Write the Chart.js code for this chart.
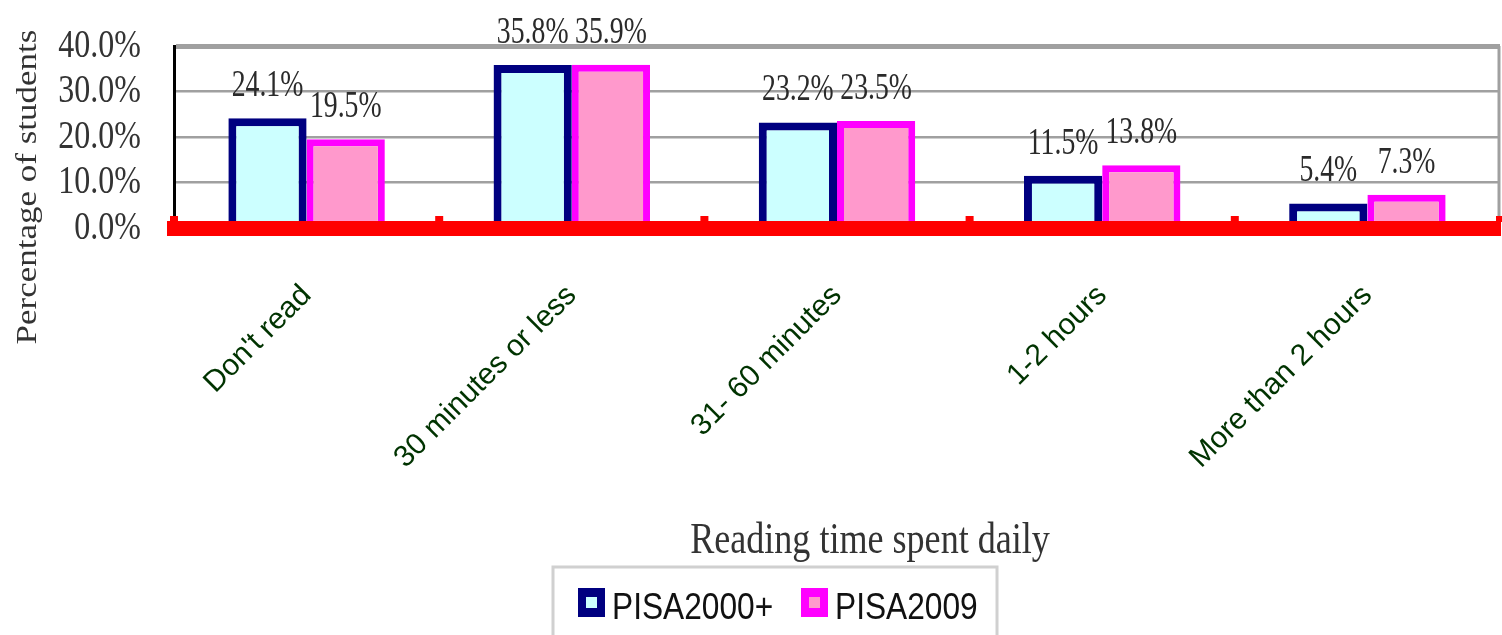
<!DOCTYPE html>
<html>
<head>
<meta charset="utf-8">
<title>Reading time spent daily</title>
<script src="https://cdn.jsdelivr.net/npm/chart.js@4.4.1/dist/chart.umd.min.js"></script>
<style>
  html, body { margin: 0; padding: 0; background: #fff; }
  #wrap { width: 1502px; height: 635px; position: relative; }
</style>
</head>
<body>
<div id="wrap"><canvas id="chart"></canvas></div>
<script>
const categories = ["Don't read", '30 minutes or less', '31- 60 minutes', '1-2 hours', 'More than 2 hours'];
const pisa2000 = [24.1, 35.8, 23.2, 11.5, 5.4];
const pisa2009 = [19.5, 35.9, 23.5, 13.8, 7.3];
const seriesNames = ['PISA2000+', 'PISA2009'];
const yTicks = [0, 10, 20, 30, 40];

// squeezed text, the source picture is narrowed horizontally
function squeezedText(ctx, text, x, y, sx, font, color, align, baseline) {
  ctx.save();
  ctx.font = font;
  ctx.fillStyle = color;
  ctx.textAlign = align;
  ctx.textBaseline = baseline;
  ctx.translate(x, y);
  ctx.scale(sx, 1);
  ctx.fillText(text, 0, 0);
  ctx.restore();
}

const decorations = {
  id: 'decorations',
  beforeDatasetsDraw(chart) {
    const { ctx, chartArea } = chart;
    ctx.save();
    ctx.strokeStyle = '#a0a0a0';
    ctx.lineWidth = 3;
    ctx.beginPath();
    ctx.moveTo(chartArea.right - 1, chartArea.top);
    ctx.lineTo(chartArea.right - 1, chartArea.bottom);
    ctx.stroke();
    ctx.restore();
  },
  afterDatasetsDraw(chart) {
    const { ctx } = chart;
    chart.data.datasets.forEach((ds, i) => {
      const meta = chart.getDatasetMeta(i);
      meta.data.forEach((bar, j) => {
        squeezedText(ctx, ds.data[j].toFixed(1) + '%', bar.x, bar.y - 22, 0.73,
          '38px "Liberation Serif"', '#2a2a2a', 'center', 'alphabetic');
      });
    });
  },
  afterDraw(chart) {
    const { ctx, scales, chartArea } = chart;
    const y = scales.y;
    const x = scales.x;

    // little red marks between categories
    ctx.save();
    ctx.fillStyle = '#ff0000';
    const half = (x.getPixelForValue(1) - x.getPixelForValue(0)) / 2;
    for (let i = 0; i <= categories.length; i++) {
      const px = x.getPixelForValue(i) - half;
      ctx.fillRect(px - 4, chartArea.bottom - 12, 8, 6);
    }
    ctx.restore();

    y.ticks.forEach(t => {
      squeezedText(ctx, t.value.toFixed(1) + '%', 141, y.getPixelForValue(t.value), 0.8,
        '40px "Liberation Serif"', '#333', 'right', 'middle');
    });

    // y title
    ctx.save();
    ctx.translate(28, 187);
    ctx.scale(0.82, 1);
    ctx.rotate(-Math.PI / 2);
    ctx.font = '35px "Liberation Serif"';
    ctx.fillStyle = '#333';
    ctx.textAlign = 'center';
    ctx.textBaseline = 'middle';
    ctx.fillText('Percentage of students', 0, 0);
    ctx.restore();

    // x title
    squeezedText(ctx, 'Reading time spent daily', 870, 553, 0.82,
      '44px "Liberation Serif"', '#333', 'center', 'alphabetic');

    // legend box
    ctx.save();
    ctx.strokeStyle = '#d0d0d0';
    ctx.lineWidth = 3;
    ctx.strokeRect(553, 567, 444, 90);
    const items = [
      { x: 578, ds: chart.data.datasets[0] },
      { x: 801, ds: chart.data.datasets[1] },
    ];
    items.forEach(it => {
      ctx.fillStyle = it.ds.borderColor;
      ctx.fillRect(it.x, 588, 27, 29);
      ctx.fillStyle = it.ds.backgroundColor;
      ctx.fillRect(it.x + 8, 597, 11, 11);
      squeezedText(ctx, it.ds.label, it.x + 34, 619, 0.88,
        '36px "Liberation Sans"', '#111', 'left', 'alphabetic');
    });
    ctx.restore();
  }
};

new Chart(document.getElementById('chart'), {
  type: 'bar',
  data: {
    labels: categories,
    datasets: [
      {
        label: seriesNames[0],
        data: pisa2000,
        backgroundColor: '#ccffff',
        borderColor: '#000080',
        borderWidth: 8,
        borderSkipped: 'start',
      },
      {
        label: seriesNames[1],
        data: pisa2009,
        backgroundColor: '#ff99cc',
        borderColor: '#ff00ff',
        borderWidth: 7,
        borderSkipped: 'start',
      },
    ],
  },
  options: {
    responsive: true,
    maintainAspectRatio: false,
    animation: false,
    categoryPercentage: 0.59,
    barPercentage: 1.0,
    layout: { padding: { top: 46, right: 2, left: 0, bottom: 0 } },
    plugins: { legend: { display: false }, tooltip: { enabled: false } },
    scales: {
      x: {
        grid: { display: false },
        border: { display: true, color: '#ff0000', width: 15, z: 1 },
        ticks: {
          color: '#003300',
          font: { family: '"Liberation Sans", Arial, sans-serif', size: 30 },
          minRotation: 45,
          maxRotation: 45,
          padding: 42,
          autoSkip: false,
        },
        afterFit: s => { s.height = 635 - 228; },
      },
      y: {
        min: 0,
        max: 40,
        afterBuildTicks: s => { s.ticks = yTicks.map(v => ({ value: v })); },
        ticks: { display: false },
        grid: {
          color: '#a0a0a0',
          lineWidth: c => (c.tick && c.tick.value === 40 ? 5 : 2.5),
          drawTicks: false,
        },
        border: { display: true, color: '#000', width: 3 },
        afterFit: s => { s.width = 174; },
      },
    },
  },
  plugins: [decorations],
});
</script>
</body>
</html>
